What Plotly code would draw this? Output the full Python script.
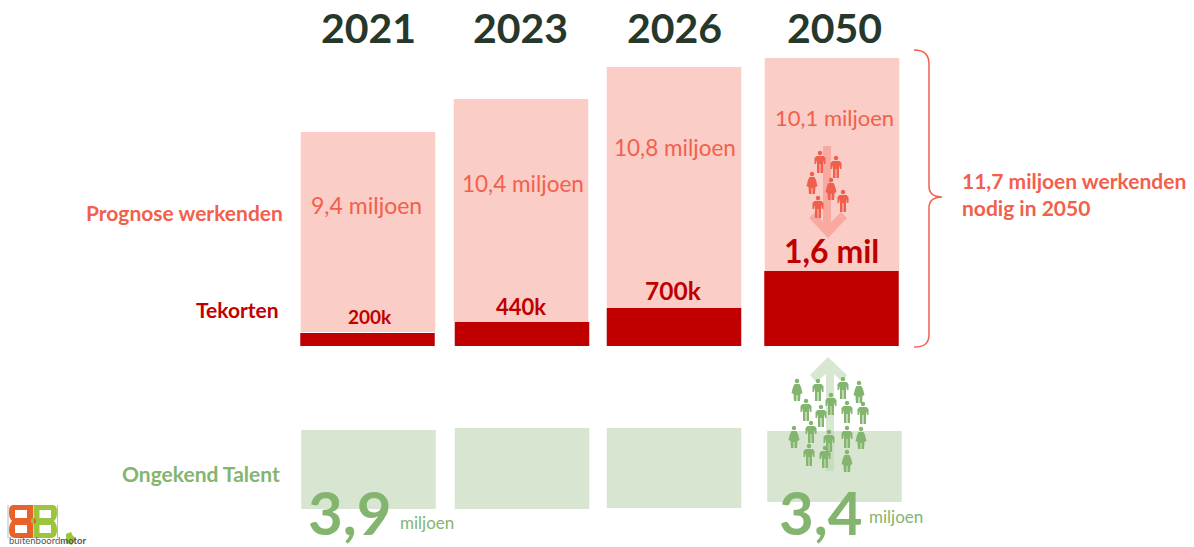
import plotly.graph_objects as go

# ---- data (bar sizes are as drawn: the source is not to scale) ----
years = ["2021", "2023", "2026", "2050"]
tekort_drawn = [13, 24, 38, 75]
prognose_gap = [1, 0, 0, 0]
prognose_drawn = [200, 223, 241, 213]
talent_gap = [84, 82, 82, 85]
talent_drawn = [79, 81, 80, 71]
prognose_labels = ["9,4 miljoen", "10,4 miljoen", "10,8 miljoen", "10,1 miljoen"]
tekort_labels = ["200k", "440k", "700k", "1,6 mil"]
talent_labels = ["3,9", "3,4"]
row_labels = ["Prognose werkenden", "Tekorten", "Ongekend Talent"]
need_label = "11,7 miljoen werkenden<br>nodig in 2050"

# ---- layout ----
W, H, BASE = 1194, 547, 346
FONT = "Lato"
PINK, RED, GREEN = "#facdc6", "#c00000", "#d7e5d1"
CORAL, LEAF, INK = "#f2604c", "#84b56f", "#26382b"
BAR_W = 134.5
pink_x = [368, 521, 674, 832]
red_x = [367.5, 522, 674, 831.5]
green_x = [368.5, 522, 674, 834.5]


def Y(py):
    return BASE - py


fig = go.Figure()
fig.add_bar(x=red_x, y=tekort_drawn, width=BAR_W, marker=dict(color=RED, line_width=0), name="Tekorten")
fig.add_bar(x=pink_x, y=prognose_drawn, base=[t + g for t, g in zip(tekort_drawn, prognose_gap)], width=BAR_W,
            marker=dict(color=PINK, line_width=0), name="Prognose werkenden")
fig.add_bar(x=green_x, y=talent_drawn, base=[-(g + t) for g, t in zip(talent_gap, talent_drawn)], width=BAR_W,
            marker=dict(color=GREEN, line_width=0), name="Ongekend Talent")


def note(px, py, text, size, color, bold=False, anchor="center"):
    fig.add_annotation(x=px, y=Y(py), text=f"<b>{text}</b>" if bold else text, showarrow=False, xanchor=anchor,
                       yanchor="middle", font=dict(family=FONT, size=size, color=color))


for px, t in zip([368.5, 520.5, 674.5, 834], years):
    note(px, 27, t, 41, INK, True)
for px, py, s, t in zip([366, 522.5, 675, 834.5], [205, 183, 147, 117], [23, 22.5, 22.5, 22], prognose_labels):
    note(px, py, t, s, CORAL)
for px, py, s, t in zip([369.5, 521, 673.5, 831], [316, 306, 290, 250], [19, 22, 24.5, 32], tekort_labels):
    note(px, py, t, s, RED, True)
note(285, 212, row_labels[0], 21, CORAL, True, "right")
note(281, 309, row_labels[1], 21, RED, True, "right")
note(282, 473, row_labels[2], 21, LEAF, True, "right")
note(350, 512, talent_labels[0], 60, LEAF, True)
note(398, 522, "miljoen", 17, LEAF, False, "left")
note(821, 512, talent_labels[1], 60, LEAF, True)
note(867, 516, "miljoen", 17, LEAF, False, "left")
fig.add_annotation(x=960, y=Y(194), text=f"<b>{need_label}</b>", showarrow=False, xanchor="left", align="left",
                   yanchor="middle", font=dict(family=FONT, size=21, color=CORAL))

shapes = []


def pth(points_fmt, **kw):
    shapes.append(dict(type="path", path=points_fmt, xref="x", yref="y", layer="above", **kw))


def P(cmds):
    out = []
    for c in cmds:
        if c == "Z":
            out.append("Z")
        else:
            op, coords = c[0], c[1:]
            out.append(op + " ".join(f"{coords[i]},{Y(coords[i + 1])}" for i in range(0, len(coords), 2)))
    return " ".join(out)


# brace
pth(P([("M", 914, 50), ("C", 924, 50, 929, 54, 929, 64), ("L", 929, 186), ("C", 929, 194, 934, 197, 942, 197),
       ("C", 934, 197, 929, 200, 929, 208), ("L", 929, 334), ("C", 929, 344, 924, 347, 914, 347)]),
    line=dict(color=CORAL, width=1.5))

# arrows (translucent, so the shaft shows darker over the bar)
pth(P([("M", 823, 146), ("L", 831, 146), ("L", 831, 222), ("L", 841, 212), ("L", 847, 218), ("L", 828, 238),
       ("L", 809, 218), ("L", 815, 212), ("L", 823, 222), "Z"]), fillcolor="#f9aaa0", line_width=0)
pth(P([("M", 828, 357), ("L", 847, 375), ("L", 842, 382), ("L", 834, 374), ("L", 834, 471), ("L", 826, 471),
       ("L", 826, 374), ("L", 816, 382), ("L", 810, 375), "Z"]), fillcolor="rgba(190,215,180,0.6)", line_width=0)

# pictogram people (centre x, centre y, kind)
red_people = [(820, 162, "m"), (836, 167, "m"), (812, 183, "f"), (831, 189, "f"), (818, 207, "m"), (843, 201, "m")]
green_people = [(797, 390, "f"), (818, 390, "m"), (843, 388, "m"), (859, 392, "f"), (806, 410, "m"), (831, 404, "m"),
                (821, 416, "m"), (847, 412, "m"), (863, 413, "m"), (794, 437, "f"), (811, 432, "m"), (829, 441, "m"),
                (847, 437, "m"), (861, 438, "f"), (809, 455, "m"), (825, 457, "m"), (847, 461, "f")]


def person(cx, cy, kind, color):
    r = 2.2
    hy = cy - 9
    pth(P([("M", cx - r, hy), ("C", cx - r, hy - 3, cx + r, hy - 3, cx + r, hy),
           ("C", cx + r, hy + 3, cx - r, hy + 3, cx - r, hy), "Z"]), fillcolor=color, line_width=0)
    if kind == "m":
        body = [("M", cx - 3.5, cy - 6), ("L", cx + 3.5, cy - 6), ("L", cx + 5.5, cy - 4), ("L", cx + 5.5, cy + 2),
                ("L", cx + 4, cy + 2), ("L", cx + 3, cy - 2), ("L", cx + 3, cy + 11), ("L", cx + 0.5, cy + 11),
                ("L", cx + 0.5, cy + 2), ("L", cx - 0.5, cy + 2), ("L", cx - 0.5, cy + 11), ("L", cx - 3, cy + 11),
                ("L", cx - 3, cy - 2), ("L", cx - 4, cy + 2), ("L", cx - 5.5, cy + 2), ("L", cx - 5.5, cy - 4), "Z"]
    else:
        body = [("M", cx - 2.5, cy - 6), ("L", cx + 2.5, cy - 6), ("L", cx + 4, cy - 3), ("L", cx + 5.5, cy + 3),
                ("L", cx + 3.5, cy + 4), ("L", cx + 3, cy + 11), ("L", cx + 0.5, cy + 11), ("L", cx + 0.5, cy + 5),
                ("L", cx - 0.5, cy + 5), ("L", cx - 0.5, cy + 11), ("L", cx - 3, cy + 11), ("L", cx - 3.5, cy + 4),
                ("L", cx - 5.5, cy + 3), ("L", cx - 4, cy - 3), "Z"]
    pth(P(body), fillcolor=color, line_width=0)


for cx, cy, k in red_people:
    person(cx, cy, k, "#ef5f4b")
for cx, cy, k in green_people:
    person(cx, cy, k, "#84b56f")


# logo: two mirrored block letters joined by a dot, thin rules and a word mark
def logo_b(xs, xf, color):
    """xs = solid straight side, xf = rounded side with the waist."""
    d = 1 if xf > xs else -1
    pth(P([("M", xs, 505), ("L", xf - 5 * d, 505), ("C", xf, 505, xf, 509, xf, 513), ("C", xf, 517, xf - 1 * d, 519, xf - 3 * d, 521),
           ("C", xf - 1 * d, 523, xf, 526, xf, 530), ("C", xf, 535, xf - 2 * d, 538, xf - 6 * d, 538), ("L", xs, 538), "Z"]),
        fillcolor=color, line_width=0)
    for y0, y1 in ((510, 518), (525, 533)):
        pth(P([("M", xs + 6 * d, y0), ("L", xf - 6 * d, y0), ("L", xf - 6 * d, y1), ("L", xs + 6 * d, y1), "Z"]),
            fillcolor="white", line_width=0)


logo_b(33, 9, "#e8622a")
logo_b(33.5, 57, "#9bc53d")
pth(P([("M", 33.5, 518), ("C", 30, 518, 30, 524, 33.5, 524), "Z"]), fillcolor="#9bc53d", line_width=0)
pth(P([("M", 33.5, 518), ("C", 37, 518, 37, 524, 33.5, 524), "Z"]), fillcolor="#e8622a", line_width=0)
for rx in (8, 57.5):
    pth(P([("M", rx, 505), ("L", rx, 538)]), line=dict(color="#bbbbbb", width=1))
pth(P([("M", 66, 534), ("L", 71, 532), ("L", 73, 536), ("L", 76, 538), ("L", 72, 545), ("L", 66, 543), "Z"]),
    fillcolor="#9bc53d", line_width=0)
fig.add_annotation(x=7, y=Y(540), text='buitenboord<b>motor</b>', showarrow=False, xanchor="left", yanchor="middle",
                   font=dict(family=FONT, size=9.5, color="#555555"))

fig.update_layout(
    width=W, height=H, margin=dict(l=0, r=0, t=0, b=0), paper_bgcolor="white", plot_bgcolor="white",
    barmode="overlay", showlegend=False, shapes=shapes,
    xaxis=dict(range=[0, W], visible=False, fixedrange=True),
    yaxis=dict(range=[BASE - H, BASE], visible=False, fixedrange=True),
)
fig.write_html("out.html", config=dict(displayModeBar=False),
               post_script="document.body.style.margin='0';window.dispatchEvent(new Event('resize'));")
